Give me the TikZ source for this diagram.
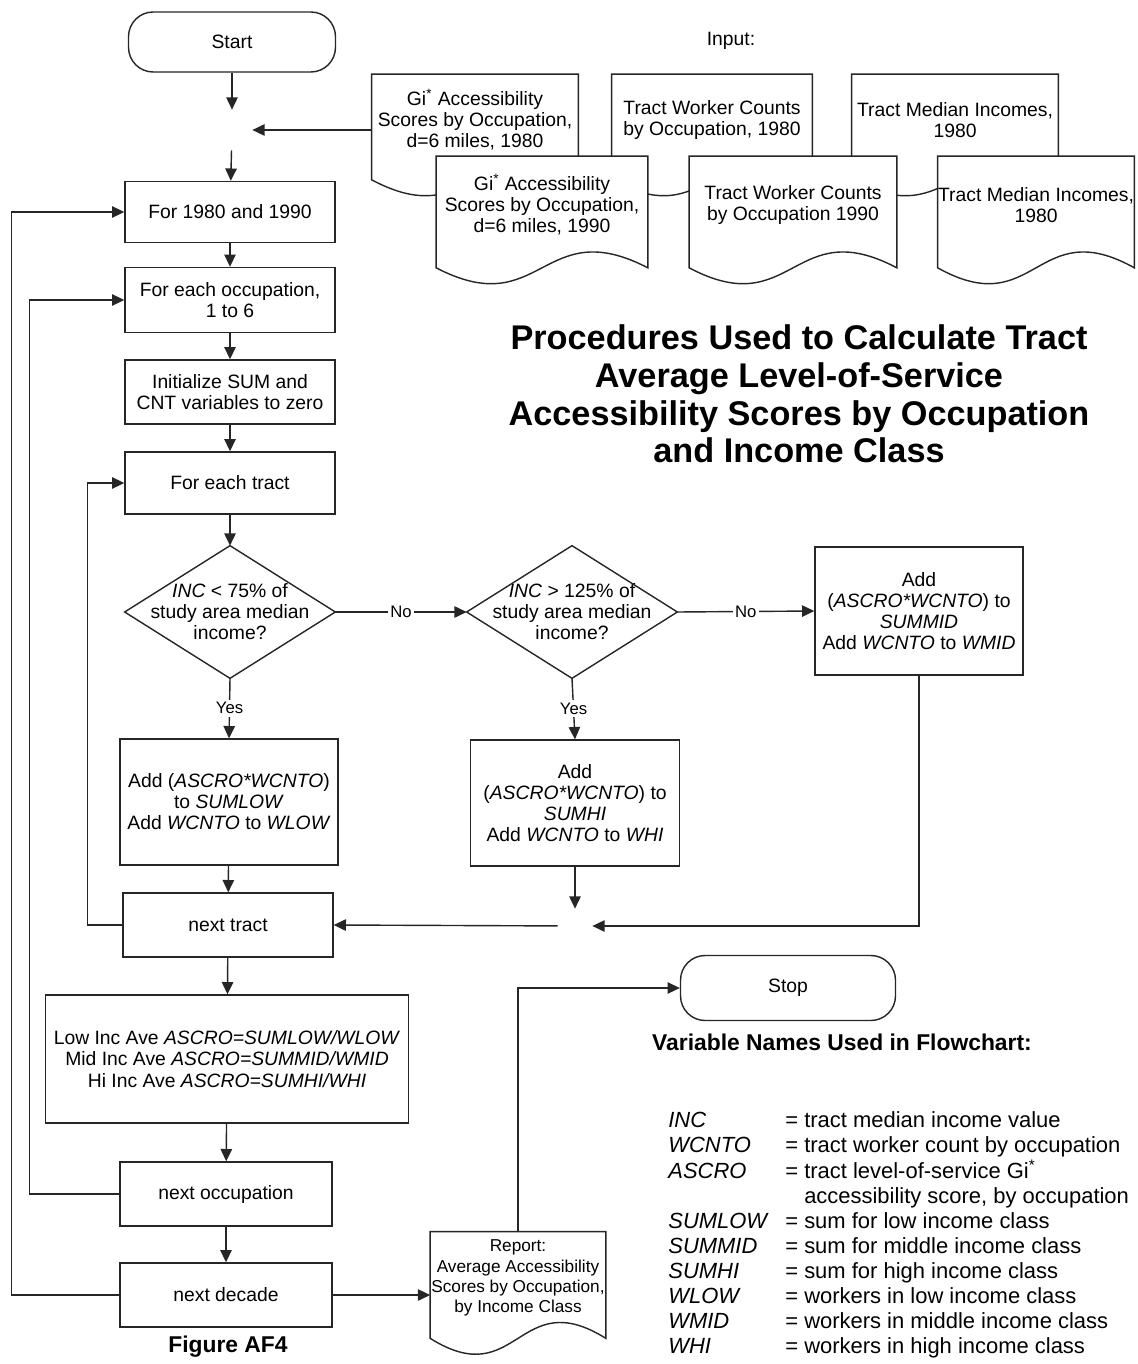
\documentclass[tikz,border=0pt]{standalone}
\usepackage{fontspec}
\setmainfont{Liberation Sans}
\usetikzlibrary{arrows.meta,backgrounds,calc}

\begin{document}
\begin{tikzpicture}[x=0.02cm, y=-0.02cm,
    flowline/.style={draw=black!85, line width=0.8pt},
    arr/.style={flowline, -{Triangle[length=7pt, width=6.5pt]}},
    txt/.style={font=\fontsize{11}{12}\selectfont, align=center},
    box/.style={txt, flowline, rectangle, inner sep=0pt},
    term/.style={box, rounded corners=14pt},
    junc/.style={circle, minimum size=0.8cm, inner sep=0pt},
    doc/.style={txt, rectangle, inner sep=0pt},
    decision/.style={txt, rectangle, inner sep=0pt, minimum width=4.2cm, minimum height=2.64cm},
    answer/.style={font=\fontsize{9.5}{10}\selectfont, fill=white, inner sep=1.5pt}]
    \useasboundingbox (0,0) rectangle (1137,1364);

    % Start and inputs
    \node[term, minimum width=4.14cm, minimum height=1.2cm] (start) at (232,42) {Start};
    \node[txt] (input) at (731,41) {Input:};
    \node[junc] (j1) at (232,130) {};

    \node[doc, minimum width=4.12cm, minimum height=1.82cm] (gi80) at (475,120) {Gi\textsuperscript{*} Accessibility\\Scores by Occupation,\\d=6 miles, 1980};
    \node[doc, minimum width=4cm, minimum height=1.82cm] (wc80) at (712,120) {Tract Worker Counts\\by Occupation, 1980};
    \node[doc, minimum width=4.12cm, minimum height=1.82cm] (inc80) at (955,120) {Tract Median Incomes,\\1980};
    \node[doc, minimum width=4.22cm, minimum height=1.94cm] (gi90) at (542,205) {Gi\textsuperscript{*} Accessibility\\Scores by Occupation,\\d=6 miles, 1990};
    \node[doc, minimum width=4.14cm, minimum height=1.94cm] (wc90) at (793,205) {Tract Worker Counts\\by Occupation 1990};
    \node[doc, minimum width=3.92cm, minimum height=1.94cm] (inc90) at (1036,205) {Tract Median Incomes,\\1980};

    % Loops and tests
    \node[box, minimum width=4.2cm, minimum height=1.22cm] (years) at (230,212) {For 1980 and 1990};
    \node[box, minimum width=4.2cm, minimum height=1.3cm] (occ) at (230,300) {For each occupation,\\1 to 6};
    \node[box, minimum width=4.2cm, minimum height=1.28cm] (init) at (230,392) {Initialize SUM and\\CNT variables to zero};
    \node[box, minimum width=4.2cm, minimum height=1.24cm] (tract) at (230,483) {For each tract};

    \node[decision] (lowtest) at (230,612) {\textit{INC} < 75\% of\\study area median\\income?};
    \node[decision] (hitest) at (572,612) {\textit{INC} > 125\% of\\study area median\\income?};
    \draw[flowline] (lowtest.north) -- (lowtest.east) -- (lowtest.south) -- (lowtest.west) -- cycle;
    \draw[flowline] (hitest.north) -- (hitest.east) -- (hitest.south) -- (hitest.west) -- cycle;

    \node[box, minimum width=4.36cm, minimum height=2.52cm] (addlow) at (229,802) {Add (\textit{ASCRO*WCNTO})\\to \textit{SUMLOW}\\Add \textit{WCNTO} to \textit{WLOW}};
    \node[box, minimum width=4.18cm, minimum height=2.52cm] (addhi) at (575,803) {Add\\(\textit{ASCRO*WCNTO}) to\\\textit{SUMHI}\\Add \textit{WCNTO} to \textit{WHI}};
    \node[box, minimum width=4.16cm, minimum height=2.56cm] (addmid) at (919,611) {Add\\(\textit{ASCRO*WCNTO}) to\\\textit{SUMMID}\\Add \textit{WCNTO} to \textit{WMID}};

    \node[box, minimum width=4.2cm, minimum height=1.28cm] (nexttract) at (228,925) {next tract};
    \node[junc, minimum size=0.68cm] (j2) at (575,926) {};

    \node[box, minimum width=7.26cm, minimum height=2.56cm] (average) at (227,1059) {Low Inc Ave \textit{ASCRO=SUMLOW/WLOW}\\Mid Inc Ave \textit{ASCRO=SUMMID/WMID}\\Hi Inc Ave \textit{ASCRO=SUMHI/WHI}};
    \node[box, minimum width=4.24cm, minimum height=1.28cm] (nextocc) at (226,1194) {next occupation};
    \node[box, minimum width=4.24cm, minimum height=1.28cm] (nextdec) at (226,1295) {next decade};
    \node[font=\fontsize{13}{15}\selectfont\bfseries] (fig) at (228,1347) {Figure AF4};

    \node[doc, font=\fontsize{9.8}{11.5}\selectfont, minimum width=3.5cm, minimum height=1.84cm] (report) at (518,1278) {Report:\\Average Accessibility\\Scores by Occupation,\\by Income Class};
    \node[term, minimum width=4.3cm, minimum height=1.3cm] (stop) at (788,988) {Stop};

    % Title and variable list
    \node[font=\fontsize{19.5}{21.5}\selectfont\bfseries, align=center] (title) at (799,394) {Procedures Used to Calculate Tract\\Average Level-of-Service\\Accessibility Scores by Occupation\\and Income Class};
    \node[font=\fontsize{13}{15}\selectfont\bfseries] (varhead) at (842,1042) {Variable Names Used in Flowchart:};
    \node[anchor=north west, inner sep=0pt, font=\fontsize{12.5}{14.2}\selectfont] (legend) at (668,1110) {%
      \begin{tabular}{@{}p{2.34cm}@{}l@{}}
        \textit{INC} & = tract median income value\\
        \textit{WCNTO} & = tract worker count by occupation\\
        \textit{ASCRO} & = tract level-of-service Gi\textsuperscript{*}\\
        & \phantom{=}\ accessibility score, by occupation\\
        \textit{SUMLOW} & = sum for low income class\\
        \textit{SUMMID} & = sum for middle income class\\
        \textit{SUMHI} & = sum for high income class\\
        \textit{WLOW} & = workers in low income class\\
        \textit{WMID} & = workers in middle income class\\
        \textit{WHI} & = workers in high income class
      \end{tabular}};

    % Document outlines behind the texts
    \begin{scope}[on background layer]
        \fill[white] (0,0) rectangle (1137,1364);
        \foreach \docname in {gi80,wc80,inc80,gi90,wc90,inc90,report}
            \draw[flowline, fill=white] (\docname.north west) -- (\docname.north east) -- ($(\docname.south east)+(0,14)$)
                .. controls ($(\docname.south)+(0,-41)$) and ($(\docname.south)+(0,69)$) .. ($(\docname.south west)+(0,14)$) -- cycle;
    \end{scope}

    % Connectors
    \draw[arr] (start) -- (j1);
    \draw[arr] (gi80.west |- j1) -- (j1);
    \draw[arr] (j1) -- (years);
    \draw[arr] (years) -- (occ);
    \draw[arr] (occ) -- (init);
    \draw[arr] (init) -- (tract);
    \draw[arr] (tract) -- (lowtest.north);
    \draw[arr] (lowtest.east) -- node[answer] {No} (hitest.west);
    \draw[arr] (hitest.east) -- node[answer] {No} (addmid.west);
    \draw[arr] (lowtest.south) -- node[answer] {Yes} (addlow.north);
    \draw[arr] (hitest.south) -- node[answer] {Yes} (addhi.north);
    \draw[arr] (addlow) -- (nexttract);
    \draw[arr] (addhi) -- (j2);
    \draw[arr] (addmid.south) |- (j2);
    \draw[arr] (j2) -- (nexttract.east);
    \draw[arr] (nexttract.west) -- ++(-35,0) |- (tract.west);
    \draw[arr] (nexttract) -- (average);
    \draw[arr] (average) -- (nextocc);
    \draw[arr] (nextocc) -- (nextdec);
    \draw[arr] (nextocc.west) -- ++(-90,0) |- (occ.west);
    \draw[arr] (nextdec.west) -- ++(-108,0) |- (years.west);
    \draw[arr] (nextdec.east) -- (nextdec.east -| report.west);
    \draw[arr] (report.north) |- (stop.west);
\end{tikzpicture}
\end{document}
